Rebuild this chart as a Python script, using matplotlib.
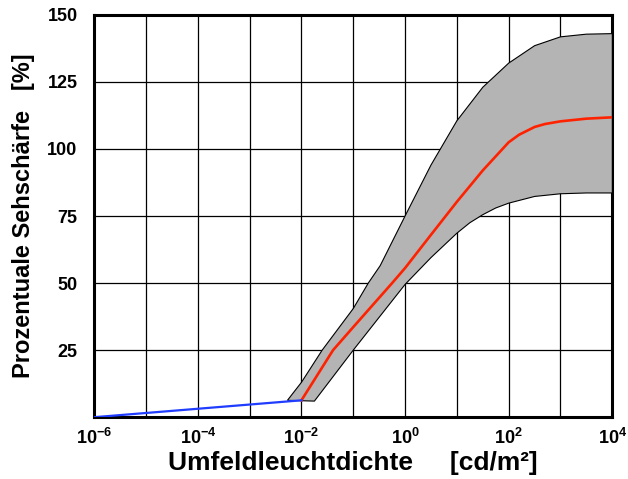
import numpy as np
import matplotlib
matplotlib.use("Agg")
import matplotlib.pyplot as plt

plt.rcParams['font.family'] = ['Liberation Sans', 'DejaVu Sans']
plt.rcParams['font.weight'] = 'bold'
plt.rcParams['mathtext.fontset'] = 'custom'
plt.rcParams['mathtext.rm'] = 'Liberation Sans:bold'
plt.rcParams['mathtext.it'] = 'Liberation Sans:bold'
plt.rcParams['mathtext.bf'] = 'Liberation Sans:bold'

# Dekaden-Exponenten (log10 der Leuchtdichte) und Werte in %
upper_exp = [-2.27, -2.0, -1.6, -1.0, -0.71, -0.48, 0.0, 0.5, 1.0, 1.5, 2.0, 2.5, 3.0, 3.5, 4.0]
upper_val = [6.3, 13, 25, 40.5, 50, 56.5, 75, 94, 110.5, 123, 132, 138.5, 141.8, 142.8, 143]

lower_exp = [-2.27, -1.75, -1.0, 0.0, 0.5, 1.0, 1.25, 1.5, 1.75, 2.0, 2.5, 3.0, 3.5, 4.0]
lower_val = [6.3, 6.0, 25, 49.5, 59.5, 68.6, 72.5, 75.5, 78, 79.8, 82.3, 83.3, 83.6, 83.6]

red_exp = [-2.0, -1.39, -1.0, -0.25, 0.0, 0.5, 1.0, 1.5, 2.0, 2.2, 2.5, 2.7, 3.0, 3.5, 4.0]
red_val = [6.3, 25, 33.6, 50, 55.6, 68, 80.3, 92, 102.5, 105.3, 108.2, 109.3, 110.3, 111.3, 111.8]

blue_exp = [-6.0, -2.0]
blue_val = [0.0, 6.3]

xtick_exp = [-6, -5, -4, -3, -2, -1, 0, 1, 2, 3, 4]
yticks = [25, 50, 75, 100, 125, 150]

fig = plt.figure(figsize=(6.28, 4.79), dpi=100)
ax = fig.add_axes([0.150, 0.129, 0.825, 0.840])

# grauer Streubereich
poly_x = 10.0 ** np.concatenate([upper_exp, lower_exp[::-1]])
poly_y = np.concatenate([upper_val, lower_val[::-1]])
ax.fill(poly_x, poly_y, facecolor='#b4b4b4', edgecolor='black', linewidth=0.8, zorder=3)

ax.plot(10.0 ** np.array(red_exp), red_val, color='#ff2200', linewidth=1.9, zorder=4)
ax.plot(10.0 ** np.array(blue_exp), blue_val, color='#1f3cff', linewidth=1.6, zorder=4)

ax.set_xscale('log')
ax.set_xlim(1e-6, 1e4)
ax.set_ylim(0, 150)

ax.set_xticks([10.0 ** e for e in xtick_exp])
ax.set_xticklabels(['$10^{%d}$' % e if e % 2 == 0 else '' for e in xtick_exp])
ax.xaxis.set_minor_locator(matplotlib.ticker.NullLocator())
ax.set_yticks(yticks)
ax.set_yticklabels([str(v) for v in yticks])

ax.grid(True, color='black', linewidth=0.9, zorder=1)
ax.set_axisbelow(True)
ax.tick_params(length=0, labelsize=13)
ax.tick_params(axis='x', pad=8)
ax.tick_params(axis='y', pad=12)

for s in ax.spines.values():
    s.set_linewidth(2.2)

ax.set_xlabel('Umfeldleuchtdichte     [cd/m²]', fontsize=19, fontweight='bold', labelpad=2)
ax.set_ylabel('Prozentuale Sehschärfe   [%]', fontsize=17, fontweight='bold', labelpad=9)

fig.savefig('out.png', dpi=100)
